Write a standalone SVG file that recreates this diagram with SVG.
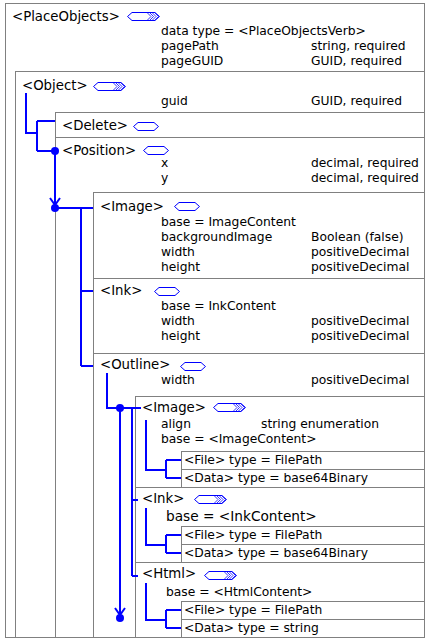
<svg xmlns="http://www.w3.org/2000/svg" width="435" height="640" viewBox="0 0 435 640">
<style>
.box{fill:none;stroke:#808080;stroke-width:1}
.h{font-family:"DejaVu Sans",Verdana,sans-serif;font-size:13.3px;fill:#000}
.s{font-family:"DejaVu Sans",Verdana,sans-serif;font-size:12.3px;fill:#000}
.b{font-family:"DejaVu Sans",Verdana,sans-serif;font-size:13.7px;fill:#000}
.c{fill:none;stroke:#0000ff;stroke-width:2}
.dot{fill:#0000ff}
.ic{fill:#fff;stroke:#0000ff;stroke-width:1}
.chev{fill:none;stroke:#0000ff;stroke-width:0.8}
</style>
<defs>
<g id="hex"><polygon class="ic" points="0.5,4.5 5,0.5 21,0.5 25.5,4.5 21,8.5 5,8.5"/></g>
<g id="seq"><polygon class="ic" points="0.5,4.5 5,0.5 28,0.5 32.5,4.5 28,8.5 5,8.5"/>
<polyline class="chev" points="20,0.5 24,4.5 20,8.5"/><polyline class="chev" points="22.5,0.5 26.5,4.5 22.5,8.5"/><polyline class="chev" points="25,0.5 29,4.5 25,8.5"/><polyline class="chev" points="27.5,0.5 31.5,4.5 27.5,8.5"/></g>
</defs>
<rect width="435" height="640" fill="#fff"/>

<g id="PlaceObjects">
<rect class="box" x="5.5" y="3.5" width="419" height="634"/>
<text class="h" x="12" y="21">&lt;PlaceObjects&gt;</text>
<use href="#seq" x="127" y="12"/>
<text class="s" x="161" y="35">data type = &lt;PlaceObjectsVerb&gt;</text>
<text class="s" x="161" y="50">pagePath</text><text class="s" x="311" y="50">string, required</text>
<text class="s" x="161" y="65">pageGUID</text><text class="s" x="311" y="65">GUID, required</text>
</g>

<g id="Object">
<rect class="box" x="15.5" y="71.5" width="409" height="566"/>
<text class="h" x="22" y="90">&lt;Object&gt;</text>
<use href="#seq" x="93" y="82"/>
<text class="s" x="161" y="105">guid</text><text class="s" x="311" y="105">GUID, required</text>
</g>

<g id="Delete">
<rect class="box" x="55.5" y="112.5" width="369" height="25"/>
<text class="h" x="62" y="130">&lt;Delete&gt;</text>
<use href="#hex" x="133" y="122"/>
</g>

<g id="Position">
<rect class="box" x="55.5" y="137.5" width="369" height="500"/>
<text class="h" x="62" y="155">&lt;Position&gt;</text>
<use href="#hex" x="143" y="146"/>
<text class="s" x="161" y="167">x</text><text class="s" x="311" y="167">decimal, required</text>
<text class="s" x="161" y="182">y</text><text class="s" x="311" y="182">decimal, required</text>
</g>

<g id="Image">
<rect class="box" x="93.5" y="192.5" width="331" height="86"/>
<text class="h" x="100" y="211">&lt;Image&gt;</text>
<use href="#hex" x="174" y="202"/>
<text class="s" x="161" y="226">base = ImageContent</text>
<text class="s" x="161" y="241">backgroundImage</text><text class="s" x="311" y="241">Boolean (false)</text>
<text class="s" x="161" y="256">width</text><text class="s" x="311" y="256">positiveDecimal</text>
<text class="s" x="161" y="271">height</text><text class="s" x="311" y="271">positiveDecimal</text>
</g>

<g id="Ink">
<rect class="box" x="93.5" y="278.5" width="331" height="75"/>
<text class="h" x="100" y="295">&lt;Ink&gt;</text>
<use href="#hex" x="154" y="287"/>
<text class="s" x="161" y="310">base = InkContent</text>
<text class="s" x="161" y="325">width</text><text class="s" x="311" y="325">positiveDecimal</text>
<text class="s" x="161" y="340">height</text><text class="s" x="311" y="340">positiveDecimal</text>
</g>

<g id="Outline">
<rect class="box" x="93.5" y="353.5" width="331" height="284"/>
<text class="h" x="100" y="369">&lt;Outline&gt;</text>
<use href="#hex" x="180" y="362"/>
<text class="s" x="161" y="384">width</text><text class="s" x="311" y="384">positiveDecimal</text>
</g>

<g id="OutlineImage">
<rect class="box" x="135.5" y="396.5" width="289" height="91"/>
<text class="h" x="142" y="412">&lt;Image&gt;</text>
<use href="#seq" x="213" y="403"/>
<text class="s" x="161" y="428">align</text><text class="s" x="261" y="428">string enumeration</text>
<text class="s" x="161" y="443">base = &lt;ImageContent&gt;</text>
</g>
<g id="OutlineImageFile">
<rect class="box" x="181.5" y="451.5" width="243" height="18"/>
<text class="s" x="184" y="464">&lt;File&gt; type = FilePath</text>
</g>
<g id="OutlineImageData">
<rect class="box" x="181.5" y="469.5" width="243" height="18"/>
<text class="s" x="184" y="482">&lt;Data&gt; type = base64Binary</text>
</g>

<g id="OutlineInk">
<rect class="box" x="135.5" y="487.5" width="289" height="75"/>
<text class="h" x="142" y="503">&lt;Ink&gt;</text>
<use href="#seq" x="194" y="495"/>
<text class="b" x="166" y="521">base = &lt;InkContent&gt;</text>
</g>
<g id="OutlineInkFile">
<rect class="box" x="181.5" y="526.5" width="243" height="18"/>
<text class="s" x="184" y="539">&lt;File&gt; type = FilePath</text>
</g>
<g id="OutlineInkData">
<rect class="box" x="181.5" y="544.5" width="243" height="18"/>
<text class="s" x="184" y="557">&lt;Data&gt; type = base64Binary</text>
</g>

<g id="Html">
<rect class="box" x="135.5" y="562.5" width="289" height="75"/>
<text class="h" x="142" y="578">&lt;Html&gt;</text>
<use href="#seq" x="204" y="571"/>
<text class="s" x="166" y="596">base = &lt;HtmlContent&gt;</text>
</g>
<g id="HtmlFile">
<rect class="box" x="181.5" y="601.5" width="243" height="18"/>
<text class="s" x="184" y="614">&lt;File&gt; type = FilePath</text>
</g>
<g id="HtmlData">
<rect class="box" x="181.5" y="619.5" width="243" height="18"/>
<text class="s" x="184" y="632">&lt;Data&gt; type = string</text>
</g>

<g id="connectors">
<path class="c" d="M26,93 V133 H37 M37,121 V151 M37,121 H55 M37,151 H55"/>
<circle class="dot" cx="55" cy="151" r="4"/>
<path class="c" d="M55,151 V207 M50,198 L55,205 L60,198"/>
<circle class="dot" cx="55" cy="208" r="4"/>
<path class="c" d="M55,208 H93 M81,208 V366 M81,291 H93 M81,366 H93"/>
<path class="c" d="M107,373 V408 H141 M132,408 V576 M132,500 H138 M132,576 H138"/>
<circle class="dot" cx="120" cy="408" r="4"/>
<path class="c" d="M120,408 V616 M115,608 L120,615 L125,608"/>
<circle class="dot" cx="120" cy="618" r="4"/>
<path class="c" d="M146,420 V470 H166 M166,460 V478 M166,460 H181 M166,478 H181"/>
<path class="c" d="M146,508 V545 H166 M166,535 V553 M166,535 H181 M166,553 H181"/>
<path class="c" d="M146,583 V620 H166 M166,610 V628 M166,610 H181 M166,628 H181"/>
</g>
</svg>
